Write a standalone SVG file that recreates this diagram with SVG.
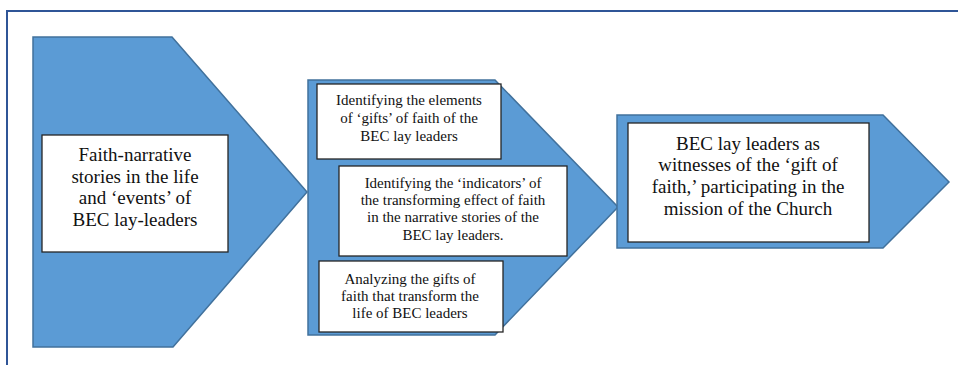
<svg xmlns="http://www.w3.org/2000/svg" width="958" height="365" viewBox="0 0 958 365">
<style>
.arrow{fill:#5B9BD5;stroke:#41719C;stroke-width:1.5}
.box{fill:#fff;stroke:#262626;stroke-width:1.3}
.t{font-family:'Liberation Serif','Times New Roman',Tinos,'DejaVu Serif',serif;fill:#111;text-anchor:middle}
.big{font-size:19px}
.small{font-size:15px}
</style>
<rect width="958" height="365" fill="#fff"/>
<path d="M7,365 V11 H958" fill="none" stroke="#2F5597" stroke-width="2"/>
<g id="stage1">
<polygon class="arrow" points="33,37 172,37 307,192 173,347 33,347"/>
<rect class="box" x="42" y="135" width="186" height="117"/>
<text class="t big" font-family="Liberation Serif, Times New Roman, serif"><tspan x="135" y="161">Faith-narrative</tspan><tspan x="135" y="183">stories in the life</tspan><tspan x="135" y="204">and ‘events’ of</tspan><tspan x="135" y="226">BEC lay-leaders</tspan></text>
</g>
<g id="stage2">
<polygon class="arrow" points="308,80 495,80 618,207 495,335 308,335"/>
<g id="box-a">
<rect class="box" x="317" y="84" width="184" height="75"/>
<text class="t small"><tspan x="409" y="105">Identifying the elements</tspan><tspan x="409" y="123">of ‘gifts’ of faith of the</tspan><tspan x="409" y="141">BEC lay leaders</tspan></text>
</g>
<g id="box-b">
<rect class="box" x="339" y="166" width="228" height="90"/>
<text class="t small"><tspan x="453" y="188">Identifying the ‘indicators’ of</tspan><tspan x="453" y="205">the transforming effect of faith</tspan><tspan x="453" y="222">in the narrative stories of the</tspan><tspan x="453" y="240">BEC lay leaders.</tspan></text>
</g>
<g id="box-c">
<rect class="box" x="319" y="261" width="184" height="71"/>
<text class="t small"><tspan x="410" y="284">Analyzing the gifts of</tspan><tspan x="410" y="301">faith that transform the</tspan><tspan x="410" y="318">life of BEC leaders</tspan></text>
</g>
</g>
<g id="stage3">
<polygon class="arrow" points="617,115 883,115 949,182 883,248 617,248"/>
<rect class="box" x="628" y="123" width="241" height="119"/>
<text class="t big"><tspan x="748" y="150">BEC lay leaders as</tspan><tspan x="748" y="171">witnesses of the ‘gift of</tspan><tspan x="748" y="193">faith,’ participating in the</tspan><tspan x="748" y="215">mission of the Church</tspan></text>
</g>
<g id="connectors"></g>
</svg>
